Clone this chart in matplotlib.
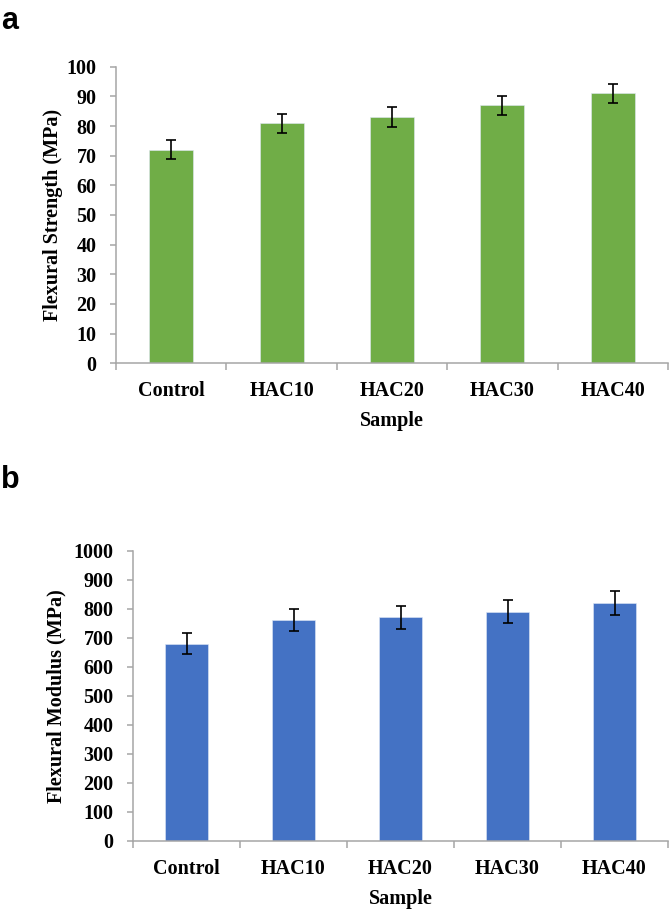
import matplotlib
matplotlib.use("Agg")
import matplotlib.pyplot as plt
import numpy as np

# data
samples = ["Control", "HAC10", "HAC20", "HAC30", "HAC40"]
strength = [72, 81, 83, 87, 91]
strength_err = [3.2, 3.2, 3.3, 3.2, 3.2]
modulus = [680, 760, 770, 790, 820]
modulus_err = [35, 38, 38, 40, 41]

plt.rcParams['font.family'] = ['Liberation Serif', 'DejaVu Serif']
plt.rcParams['font.weight'] = 'bold'

W, H = 670, 914
fig = plt.figure(figsize=(W / 100, H / 100), dpi=100)


def px_axes(left, top, right, bottom):
    return fig.add_axes([left / W, 1 - bottom / H, (right - left) / W, (bottom - top) / H])


def draw_panel(ax, values, errs, color, ymax, ystep, ylabel, ypad):
    x = np.arange(len(samples))
    ax.bar(x, values, width=0.4, color=color, edgecolor='#dfe8f5', linewidth=0.4, zorder=2)
    ax.errorbar(x, values, yerr=errs, fmt='none', ecolor='black',
                elinewidth=1.2, capsize=3.3, capthick=1.2, zorder=3)
    ax.set_xlim(-0.5, len(samples) - 0.5)
    ax.set_ylim(0, ymax)
    ax.set_yticks(np.arange(0, ymax + ystep / 2, ystep))
    ax.set_xticks(x)
    ax.set_xticklabels(samples)
    ax.set_xticks(np.arange(-0.5, len(samples)), minor=True)
    for s in ['top', 'right']:
        ax.spines[s].set_visible(False)
    for s in ['left', 'bottom']:
        ax.spines[s].set_color('#a6a6a6')
        ax.spines[s].set_linewidth(1.1)
    ax.tick_params(axis='y', direction='out', length=4, width=1.1, color='#a6a6a6',
                   labelsize=14.5, pad=10)
    ax.tick_params(axis='x', which='major', length=0, labelsize=14.5, pad=13)
    ax.tick_params(axis='x', which='minor', direction='out', length=5, width=1.1,
                   color='#a6a6a6')
    ax.set_xlabel("Sample", fontsize=14.5, fontweight='bold', labelpad=7)
    ax.set_ylabel(ylabel, fontsize=14.5, fontweight='bold', labelpad=ypad)


ax1 = px_axes(116, 66.7, 668, 363.3)
draw_panel(ax1, strength, strength_err, '#70ad47', 100, 10, "Flexural Strength (MPa)", 2.5)

ax2 = px_axes(133, 550.7, 668, 841)
draw_panel(ax2, modulus, modulus_err, '#4472c4', 1000, 100, "Flexural Modulus (MPa)", 5)

fig.text(1 / W, 1 - 29 / H, "a", fontsize=22, fontweight='bold',
         family='Liberation Sans', ha='left', va='baseline')
fig.text(1 / W, 1 - 488 / H, "b", fontsize=22, fontweight='bold',
         family='Liberation Sans', ha='left', va='baseline')

fig.savefig("out.png", dpi=100)
